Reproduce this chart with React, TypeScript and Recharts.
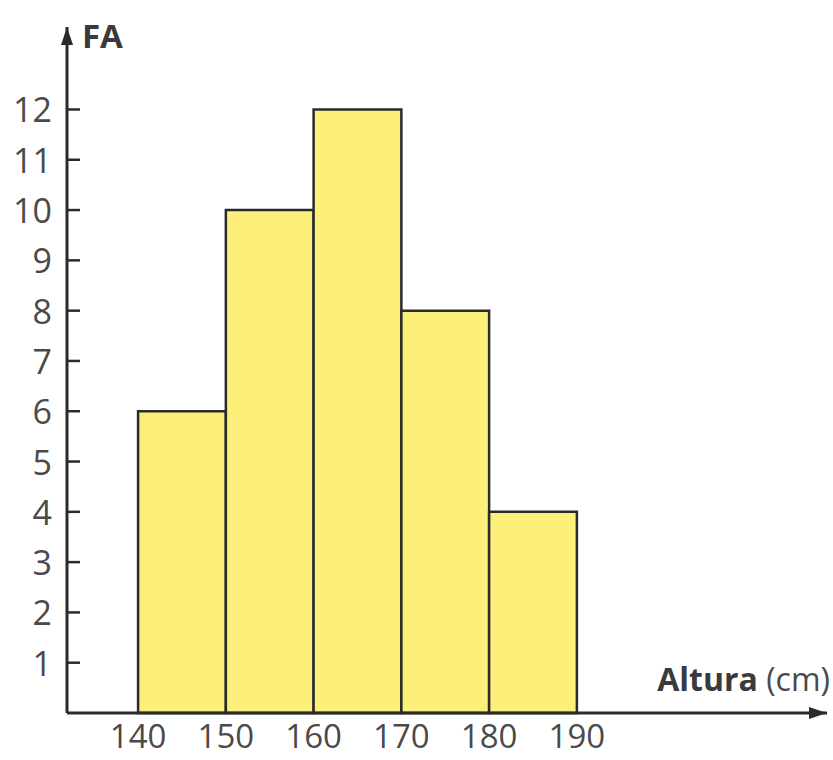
import { ComposedChart, XAxis, YAxis, ReferenceArea, Label } from 'recharts';

// histogram bins (cm) and absolute frequencies
const binStarts = [140, 150, 160, 170, 180];
const binEnds = [150, 160, 170, 180, 190];
const frequencies = [6, 10, 12, 8, 4];

const xTicks = [140, 150, 160, 170, 180, 190];
const yTicks = [1, 2, 3, 4, 5, 6, 7, 8, 9, 10, 11, 12];

const AXIS = '#2b2b2b';
const TEXT = '#4a4a4a';
const FILL = '#fdf07a';

function YTick({ x, y, payload }: any) {
  return (
    <g>
      <line x1={x} x2={x + 13} y1={y} y2={y} stroke={AXIS} strokeWidth={2.5} />
      <text x={x - 15} y={y} textAnchor="end" dominantBaseline="central" fontSize={34} fill={TEXT}>
        {payload.value}
      </text>
    </g>
  );
}

export default function App() {
  return (
    <div style={{ position: 'absolute', left: 0, top: 0, fontFamily: 'Open Sans', background: '#fff' }}>
      <ComposedChart width={833} height={760} margin={{ top: 27, right: 6, left: 0, bottom: 0 }}>
        <defs>
          <marker
            id="arrow"
            viewBox="0 0 18 14"
            refX="18"
            refY="7"
            markerWidth="18"
            markerHeight="14"
            markerUnits="userSpaceOnUse"
            orient="auto-start-reverse"
          >
            <path d="M0,1 L18,7 L0,13 Z" fill={AXIS} />
          </marker>
        </defs>
        <XAxis
          type="number"
          dataKey="x"
          domain={[131.9, 218.5]}
          allowDataOverflow
          ticks={xTicks}
          interval={0}
          height={47}
          tickSize={0}
          tickMargin={12}
          tickLine={false}
          axisLine={{ stroke: AXIS, strokeWidth: 3, markerEnd: 'url(#arrow)' }}
          tick={{ fontSize: 33, fill: TEXT }}
        >
          <Label
            content={({ viewBox }: any) => (
              <text x={viewBox.x + viewBox.width + 3} y={viewBox.y - 22} textAnchor="end" fontSize={32} fill="#3a3a3a">
                <tspan fontWeight="bold">Altura</tspan>
                <tspan fill={TEXT}> (cm)</tspan>
              </text>
            )}
          />
        </XAxis>
        <YAxis
          type="number"
          domain={[0, 13.64]}
          allowDataOverflow
          ticks={yTicks}
          interval={0}
          width={67}
          tickSize={0}
          tickMargin={0}
          tickLine={false}
          axisLine={{ stroke: AXIS, strokeWidth: 3, markerStart: 'url(#arrow)' }}
          tick={<YTick />}
        >
          <Label
            content={({ viewBox }: any) => (
              <text x={viewBox.x + viewBox.width + 15} y={viewBox.y + 21} fontSize={33} fontWeight="bold" fill="#3a3a3a">
                FA
              </text>
            )}
          />
        </YAxis>
        {frequencies.map((f, i) => (
          <ReferenceArea
            key={i}
            x1={binStarts[i]}
            x2={binEnds[i]}
            y1={0}
            y2={f}
            fill={FILL}
            fillOpacity={1}
            stroke={AXIS}
            strokeWidth={2.5}
            isFront={false}
          />
        ))}
      </ComposedChart>
    </div>
  );
}
